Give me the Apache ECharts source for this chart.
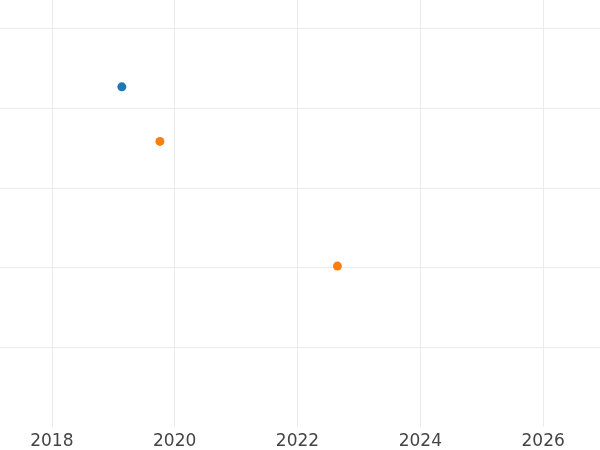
<!DOCTYPE html>
<html>
<head>
<meta charset="utf-8">
<script src="https://cdn.jsdelivr.net/npm/echarts@6/dist/echarts.min.js"></script>
<style>
html,body{margin:0;padding:0;background:#fff;overflow:hidden;width:600px;height:450px;position:relative}
#c{position:absolute;left:-71px;top:-51px;width:737px;height:501px}
</style>
</head>
<body>
<div id="c"></div>
<script>
// Series A (blue) and series B (orange): [year, value]
const seriesAX = [2019.14];
const seriesAY = [4.27];
const seriesBX = [2019.76, 2022.65];
const seriesBY = [3.585, 2.02];
const xTickYears = [2016, 2018, 2020, 2022, 2024, 2026, 2028];

const chart = echarts.init(document.getElementById('c'), null, {renderer: 'canvas'});
chart.setOption({
  animation: false,
  backgroundColor: '#ffffff',
  grid: {left: 0, right: 0, top: 0, bottom: 23, containLabel: false, outerBoundsMode: 'none'},
  xAxis: {
    type: 'value',
    min: xTickYears[0], max: xTickYears[xTickYears.length - 1], interval: 2,
    axisLine: {show: false}, axisTick: {show: false},
    axisLabel: {color: '#444444', fontFamily: 'DejaVu Sans', fontSize: 17, margin: 6,
      formatter: v => String(v)},
    splitLine: {show: true, lineStyle: {color: '#ebebeb', width: 1}}
  },
  yAxis: {
    type: 'value', min: 0, max: 6, interval: 1,
    axisLine: {show: false}, axisTick: {show: false}, axisLabel: {show: false},
    splitLine: {show: true, showMinLine: false, lineStyle: {color: '#ebebeb', width: 1}}
  },
  series: [
    {type: 'scatter', symbolSize: 9, itemStyle: {color: '#1f77b4', opacity: 1},
     data: seriesAX.map((x, i) => [x, seriesAY[i]])},
    {type: 'scatter', symbolSize: 9, itemStyle: {color: '#ff7f0e', opacity: 1},
     data: seriesBX.map((x, i) => [x, seriesBY[i]])}
  ]
});
</script>
</body>
</html>
